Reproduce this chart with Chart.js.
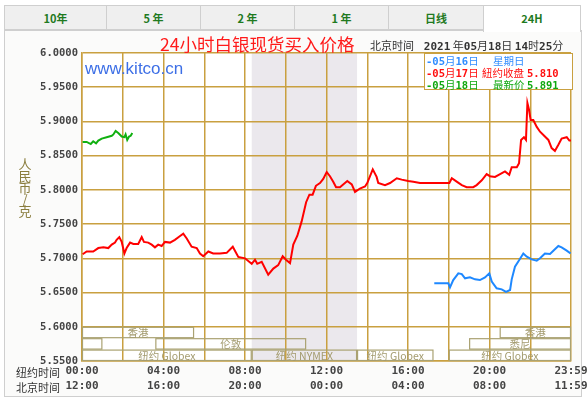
<!DOCTYPE html>
<html><head><meta charset="utf-8">
<script src="https://cdn.jsdelivr.net/npm/chart.js@4.4.0/dist/chart.umd.min.js"></script>
<style>
html,body{margin:0;padding:0;background:#fff;}
body{width:587px;height:397px;position:relative;overflow:hidden;font-family:"Noto Sans CJK SC",sans-serif;}
.abs{position:absolute;white-space:nowrap;}
#frame{position:absolute;left:4px;top:30px;width:576px;height:365px;border:1px solid #cfcfcf;background:#fbfbfa;}
.tab{position:absolute;top:5px;height:25px;box-sizing:border-box;border:1px solid #cfcfcf;border-right:none;background:#efefef;color:#1f7a1f;font-weight:bold;font-size:11px;line-height:24px;text-align:center;}
.tab.active{background:#fff;border-bottom:none;height:27px;border-right:1px solid #cfcfcf;}
#c{position:absolute;left:0;top:0;}
#title{left:160px;top:32px;font-size:17.5px;color:#ff1a1a;line-height:24px;}
#time{left:370px;top:37px;font-size:11px;color:#333;line-height:16px;}
#wm{left:85px;top:58px;font-family:"Liberation Sans",Arial,sans-serif;font-size:17px;color:#3d6fe6;line-height:22px;}
#legend{position:absolute;left:424px;top:53px;width:147px;height:35px;border:1px solid #c9a040;background:#fff;font-size:10.5px;line-height:12px;}
#legend span{position:absolute;white-space:nowrap;}
.mono{font-family:"DejaVu Sans Mono",monospace;font-weight:bold;}
#ytitle{left:17px;top:158px;width:16px;font-size:13px;line-height:11.8px;color:#8a7d3e;text-align:center;}
.rowt{left:16px;font-size:11px;color:#333;line-height:14px;}
</style></head><body>
<div id="frame"></div>
<div class="tab" style="left:4px;width:102px;">10年</div>
<div class="tab" style="left:106px;width:94px;">5 年</div>
<div class="tab" style="left:200px;width:94px;">2 年</div>
<div class="tab" style="left:294px;width:94px;">1 年</div>
<div class="tab" style="left:388px;width:95px;">日线</div>
<div class="tab active" style="left:483px;width:98px;">24H</div>
<canvas id="c" width="587" height="397"></canvas>
<div id="title" class="abs">24小时白银现货买入价格</div>
<div id="time" class="abs">北京时间&nbsp;&nbsp;&nbsp;&nbsp;<span class="mono" style="font-weight:bold">2021</span> 年<span class="mono">05</span>月<span class="mono">18</span>日 <span class="mono">14</span>时<span class="mono">25</span>分</div>
<div id="wm" class="abs">www.kitco.cn</div>
<div id="legend">
  <span style="left:1px;top:1px;color:#2f8cff"><span class="mono" style="position:static">-05</span>月<span class="mono" style="position:static">16</span>日</span>
  <span style="left:68px;top:1px;color:#2f8cff">星期日</span>
  <span style="left:1px;top:13px;color:#ff1010"><span class="mono" style="position:static">-05</span>月<span class="mono" style="position:static">17</span>日</span>
  <span style="left:57px;top:13px;color:#ff1010">紐约收盘</span>
  <span class="mono" style="left:102px;top:13px;color:#ff1010">5.810</span>
  <span style="left:1px;top:25px;color:#10a810"><span class="mono" style="position:static">-05</span>月<span class="mono" style="position:static">18</span>日</span>
  <span style="left:68px;top:25px;color:#10a810">最新价</span>
  <span class="mono" style="left:102px;top:25px;color:#10a810">5.891</span>
</div>
<div id="ytitle" class="abs">人<br>民<br>币<br>/<br>克</div>
<div class="abs rowt" style="top:365px;">纽约时间</div>
<div class="abs rowt" style="top:380px;">北京时间</div>
<script>
// ---- data (x = New York hour of day) ----
const redHours = [0.03,0.23,0.55,0.80,1.05,1.29,1.46,1.62,1.70,1.83,1.95,2.08,2.19,2.36,2.52,2.76,2.93,3.04,3.25,3.42,3.58,3.74,3.91,4.07,4.32,4.56,4.78,4.97,5.14,5.38,5.63,5.79,5.95,6.20,6.44,6.77,7.10,7.40,7.67,8.00,8.33,8.49,8.60,8.82,9.14,9.39,9.63,9.85,10.01,10.21,10.37,10.57,10.78,11.00,11.16,11.32,11.48,11.68,11.84,12.01,12.17,12.33,12.47,12.66,13.02,13.24,13.40,13.64,13.89,14.00,14.27,14.46,14.54,14.87,15.12,15.45,15.69,16.01,16.26,16.59,18.03,18.15,18.39,18.64,18.88,19.20,19.37,19.62,19.86,20.02,20.27,20.52,20.76,20.97,21.09,21.34,21.45,21.55,21.69,21.79,21.86,21.94,22.02,22.15,22.32,22.48,22.72,22.89,23.05,23.21,23.38,23.54,23.79,23.92,24.00];
const redValues = [5.706,5.710,5.710,5.715,5.716,5.715,5.720,5.723,5.727,5.731,5.724,5.707,5.715,5.723,5.721,5.721,5.731,5.724,5.723,5.720,5.716,5.720,5.718,5.724,5.723,5.727,5.732,5.736,5.729,5.717,5.715,5.707,5.703,5.710,5.707,5.707,5.708,5.717,5.702,5.700,5.692,5.698,5.692,5.695,5.676,5.685,5.690,5.703,5.698,5.693,5.720,5.733,5.754,5.782,5.793,5.793,5.806,5.810,5.816,5.826,5.820,5.812,5.804,5.804,5.813,5.808,5.797,5.802,5.805,5.810,5.830,5.819,5.810,5.807,5.810,5.817,5.815,5.813,5.812,5.810,5.810,5.817,5.812,5.807,5.804,5.804,5.807,5.814,5.823,5.820,5.819,5.823,5.827,5.822,5.833,5.833,5.839,5.873,5.877,5.873,5.927,5.917,5.902,5.902,5.892,5.885,5.878,5.873,5.861,5.857,5.866,5.875,5.877,5.872,5.872];
const blueHours = [17.29,17.98,18.06,18.22,18.47,18.64,18.80,19.04,19.29,19.53,19.78,19.99,20.11,20.35,20.60,20.81,21.01,21.09,21.25,21.46,21.66,21.83,22.07,22.32,22.48,22.72,22.97,23.21,23.38,23.54,23.79,23.98];
const blueValues = [5.6635,5.6635,5.6576,5.6683,5.678,5.677,5.6708,5.6722,5.6693,5.6683,5.6722,5.678,5.666,5.6562,5.6547,5.651,5.6537,5.6693,5.6878,5.6975,5.707,5.7024,5.6985,5.6966,5.700,5.707,5.7063,5.7132,5.718,5.716,5.7112,5.707];
const greenHours = [0.03,0.23,0.43,0.55,0.69,0.80,0.97,1.21,1.46,1.54,1.65,1.78,1.95,2.08,2.14,2.22,2.31,2.39,2.47];
const greenValues = [5.870,5.870,5.867,5.871,5.868,5.872,5.875,5.877,5.879,5.881,5.886,5.883,5.878,5.877,5.881,5.873,5.878,5.879,5.883];
const nyTimeLabels = ['00:00','04:00','08:00','12:00','16:00','20:00','23:59'];
const bjTimeLabels = ['12:00','16:00','20:00','00:00','04:00','08:00','11:59'];
const nymexShade = [8.33, 13.5];
const sessionNames = ['香港','香港','悉尼','伦敦','悉尼','纽约 Globex','纽约 NYMEX','纽约 Globex','纽约 Globex'];
const sessionStart = [0, 20.5, 0, 3.6, 19.0, 0, 8.33, 13.5, 18.0];
const sessionEnd   = [5.5, 24, 1.0, 11.0, 24, 8.33, 13.5, 17.25, 24];
const sessionRow   = [0, 0, 1, 1, 1, 2, 2, 2, 2];
const rowTop = [5.6, 5.58333, 5.56667];
const rowBottom = [5.58333, 5.56667, 5.55];

const pts = (h, v) => h.map((x, i) => ({x, y: v[i]}));
const gridColor = '#c9a040';

const sessionPlugin = {
  id: 'sessions',
  beforeDraw(chart) {
    const {ctx, chartArea: a, scales: {x}} = chart;
    ctx.save();
    ctx.fillStyle = '#ffffff';
    ctx.fillRect(a.left, a.top, a.right - a.left, a.bottom - a.top);
    const x0 = x.getPixelForValue(nymexShade[0]), x1 = x.getPixelForValue(nymexShade[1]);
    ctx.fillStyle = '#ebe8ed';
    ctx.fillRect(x0, a.top, x1 - x0, a.bottom - a.top);
    ctx.restore();
  },
  beforeDatasetsDraw(chart) {
    const {ctx, scales: {x, y}} = chart;
    ctx.save();
    ctx.strokeStyle = '#aaa272';
    ctx.lineWidth = 1.2;
    ctx.font = '10.5px "Noto Sans CJK SC", sans-serif';
    ctx.textAlign = 'center';
    ctx.textBaseline = 'middle';
    sessionNames.forEach((name, i) => {
      const xa = x.getPixelForValue(sessionStart[i]), xb = x.getPixelForValue(sessionEnd[i]);
      const ya = y.getPixelForValue(rowTop[sessionRow[i]]), yb = y.getPixelForValue(rowBottom[sessionRow[i]]);
      ctx.strokeRect(xa + 0.5, ya + 0.5, xb - xa - 1, yb - ya - 1);
      const w = ctx.measureText(name).width;
      if (w < xb - xa - 4) {
        ctx.fillStyle = '#a39b6e';
        ctx.fillText(name, (xa + xb) / 2, (ya + yb) / 2 + 0.5);
      }
    });
    ctx.restore();
  }
};

new Chart(document.getElementById('c'), {
  type: 'line',
  data: {
    datasets: [
      {label: '05月16日', data: pts(blueHours, blueValues), borderColor: '#1e88ff', borderWidth: 2, pointRadius: 0, tension: 0, fill: false},
      {label: '05月17日', data: pts(redHours, redValues), borderColor: '#ff0000', borderWidth: 2, pointRadius: 0, tension: 0, fill: false},
      {label: '05月18日', data: pts(greenHours, greenValues), borderColor: '#10b010', borderWidth: 2, pointRadius: 0, tension: 0, fill: false}
    ]
  },
  options: {
    responsive: false,
    animation: false,
    devicePixelRatio: 1,
    layout: {padding: {left: 0, right: 16, top: 53, bottom: 0}},
    plugins: {legend: {display: false}, tooltip: {enabled: false}, title: {display: false}},
    scales: {
      x: {
        type: 'linear', min: 0, max: 24,
        grid: {color: gridColor, lineWidth: 1.5, drawTicks: false},
        border: {display: true, color: gridColor, width: 1.5},
        ticks: {
          stepSize: 2, autoSkip: false, maxRotation: 0, padding: 3,
          color: '#444',
          font: {family: '"DejaVu Sans Mono", monospace', size: 11, weight: 'bold', lineHeight: 1.36},
          callback: (v) => {
            if (v % 4 !== 0) return '';
            const i = v / 4;
            return [nyTimeLabels[i], bjTimeLabels[i]];
          }
        },
        afterFit: (s) => { s.height = 36; s.paddingLeft = 0; s.paddingRight = 0; }
      },
      y: {
        min: 5.55, max: 6.0,
        grid: {color: gridColor, lineWidth: 1.5, drawTicks: false},
        border: {display: true, color: gridColor, width: 1.5},
        ticks: {
          stepSize: 0.05, padding: 4, color: '#444',
          font: {family: '"DejaVu Sans Mono", monospace', size: 10.5, weight: 'bold'},
          callback: (v) => Number(v).toFixed(4)
        },
        afterFit: (s) => { s.width = 82; s.paddingTop = 0; s.paddingBottom = 0; }
      }
    }
  },
  plugins: [sessionPlugin]
});
</script>
</body></html>
